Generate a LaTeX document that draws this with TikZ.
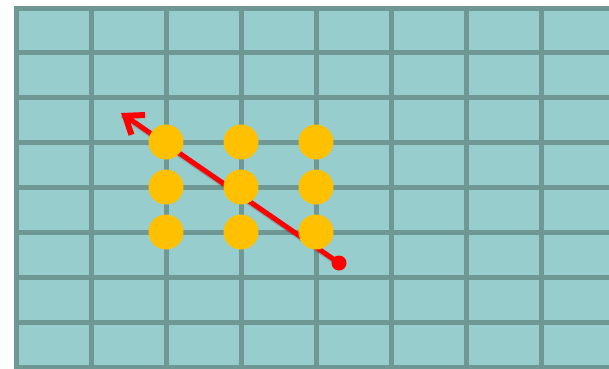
\documentclass[tikz,border=0pt]{standalone}
\usepackage[dvipsnames]{xcolor}
\usetikzlibrary{arrows.meta}

\definecolor{cellfill}{HTML}{97CDCD}
\definecolor{gridline}{HTML}{6F9793}
\definecolor{dotyellow}{HTML}{FFC000}
\definecolor{arrowred}{HTML}{FF0000}

\tikzset{
  stone/.style={circle, fill=dotyellow, inner sep=0pt, minimum size=35pt},
  pathline/.style={color=arrowred, line width=5pt},
  startdot/.style={circle, fill=arrowred, inner sep=0pt, minimum size=15pt}
}

\begin{document}
\begin{tikzpicture}[x=1pt, y=-1pt]

\useasboundingbox (0, 0) rectangle (609, 368);

% draw cells
\fill[color=cellfill] (16, 8) rectangle (609, 368);

% draw grid lines
\foreach \gx in {16, 91, 166, 241, 316, 391, 466, 541} {
  \draw[color=gridline, line width=5pt] (\gx, 5.5) -- (\gx, 370);
}
\foreach \gy in {8, 52.5, 97.5, 142.5, 187.5, 232.5, 277.5, 322.5, 367.5} {
  \draw[color=gridline, line width=5pt] (13.5, \gy) -- (612, \gy);
}

% draw path with shadow
\coordinate (tail) at (339, 263);
\coordinate (head) at (121, 113);
\draw[color=black, opacity=0.15, line width=6pt] ([shift={(1.5,2)}]tail) -- ([shift={(1.5,2)}]head);
\draw[pathline, -{Straight Barb[length=16pt, width=24pt, line width=6pt]}] (tail) -- (head);
\node[startdot] (start) at (tail) {};

% draw stones
\foreach \col/\sx in {a/166, b/241, c/316} {
  \foreach \row/\sy in {1/142, 2/187, 3/232} {
    \node[stone] (\col\row) at (\sx, \sy) {};
  }
}

\end{tikzpicture}
\end{document}
